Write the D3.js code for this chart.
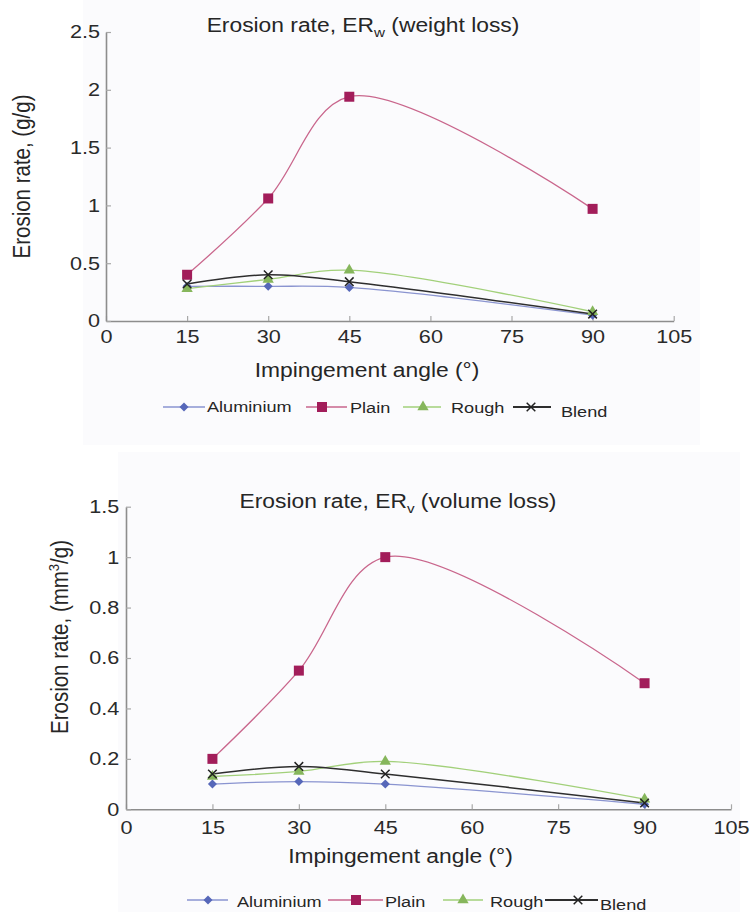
<!DOCTYPE html>
<html>
<head>
<meta charset="utf-8">
<script src="https://cdn.jsdelivr.net/npm/d3@7"></script>
<style>
  html, body { margin: 0; padding: 0; background: #ffffff; }
  svg { display: block; font-family: "Liberation Sans", Arial, Helvetica, sans-serif; }
</style>
</head>
<body>
<svg id="chart" width="752" height="912"></svg>
<script>
// ---------------- DATA ----------------
const angles = [15, 30, 45, 90];
const seriesNames = ["Aluminium", "Plain", "Rough", "Blend"];

// Erosion rate by weight loss (g/g)
const weightAluminium = [0.30, 0.30, 0.29, 0.05];
const weightPlain     = [0.40, 1.06, 1.94, 0.97];
const weightRough     = [0.28, 0.36, 0.44, 0.08];
const weightBlend     = [0.32, 0.40, 0.34, 0.06];

// Erosion rate by volume loss (mm3/g)
const volumeAluminium = [0.10, 0.11, 0.10, 0.02];
const volumePlain     = [0.20, 0.55, 1.00, 0.50];
const volumeRough     = [0.13, 0.15, 0.19, 0.04];
const volumeBlend     = [0.14, 0.17, 0.14, 0.025];

const xTicks = [0, 15, 30, 45, 60, 75, 90, 105];
const yTicksWeight = [0, 0.5, 1, 1.5, 2, 2.5];
const yTickLabelsWeight = ["0", "0.5", "1", "1.5", "2", "2.5"];
const yTicksVolume = [0, 0.2, 0.4, 0.6, 0.8, 1, 1.2];
const yTickLabelsVolume = ["0", "0.2", "0.4", "0.6", "0.8", "1", "1.5"];

// ---------------- STYLE ----------------
const SX = 1.17; // horizontal stretch of the reference's text
const styles = {
  Aluminium: { line: "#8a94d0", marker: "#5667b9", symbol: d3.symbolDiamond2, size: 52, stroke: false, lw: 1.3 },
  Plain:     { line: "#c9668c", marker: "#a21d5a", symbol: d3.symbolSquare,  size: 100, stroke: false, lw: 1.3 },
  Rough:     { line: "#a2d07a", marker: "#86b65c", symbol: d3.symbolTriangle, size: 55, stroke: false, lw: 1.3 },
  Blend:     { line: "#2e2e2e", marker: "#222222", symbol: d3.symbolX, size: 50, stroke: true, lw: 1.5 }
};

const charts = [
  {
    bg: [83, 0, 617, 445],
    x: [106, 673.7], y: [321, 32], yMax: 2.5,
    yTicks: yTicksWeight, yLabels: yTickLabelsWeight,
    series: [weightAluminium, weightPlain, weightRough, weightBlend],
    title: { x: 363, y: 32, main: "Erosion rate, ER", sub: "w", rest: " (weight loss)" },
    yTitle: { x: 30, y: 176.5, parts: [["Erosion rate, (g/g)", null]] },
    xTitle: { x: 367, y: 376.7 },
    xPad: 9, yGap: 6,
    legend: { y: 407, items: [
      { l0: 163, l1: 205, m: 184, t: 207, ty: 411.7 },
      { l0: 306, l1: 347, m: 322, t: 350, ty: 413 },
      { l0: 403, l1: 441, m: 423, t: 451, ty: 413 },
      { l0: 513, l1: 551, m: 531, t: 561, ty: 416.7 }
    ]}
  },
  {
    bg: [118, 452, 622, 460],
    x: [126, 731], y: [809.3, 506.7], yMax: 1.2,
    yTicks: yTicksVolume, yLabels: yTickLabelsVolume,
    series: [volumeAluminium, volumePlain, volumeRough, volumeBlend],
    title: { x: 398, y: 508, main: "Erosion rate, ER", sub: "v", rest: " (volume loss)" },
    yTitle: { x: 68, y: 637, parts: [["Erosion rate, (mm", null], ["3", "sup"], ["/g)", "base"]] },
    xTitle: { x: 400.5, y: 862.7 },
    xPad: 12, yGap: 6.7,
    legend: { y: 900, items: [
      { l0: 187, l1: 228, m: 208, t: 237, ty: 906.5 },
      { l0: 328, l1: 383, m: 356, t: 385, ty: 906.5 },
      { l0: 443, l1: 483, m: 463, t: 490, ty: 906.5 },
      { l0: 545, l1: 598, m: 578, t: 600, ty: 909.5 }
    ]}
  }
];

const svg = d3.select("#chart");

charts.forEach(c => {
  svg.append("rect")
    .attr("x", c.bg[0]).attr("y", c.bg[1]).attr("width", c.bg[2]).attr("height", c.bg[3])
    .attr("fill", "#fbfbfd");

  const xs = d3.scaleLinear().domain([0, 105]).range(c.x);
  const ys = d3.scaleLinear().domain([0, c.yMax]).range(c.y);
  const g = svg.append("g");

  // X axis
  const xAxis = d3.axisBottom(xs).tickValues(xTicks).tickFormat(d3.format("d"))
    .tickSizeInner(-5).tickSizeOuter(0).tickPadding(c.xPad);
  const gx = g.append("g").attr("transform", `translate(0,${c.y[0]})`).call(xAxis);
  gx.select(".domain").attr("stroke", "#8d8d8d").attr("stroke-width", 1.6);
  gx.selectAll(".tick line").attr("stroke", "#a8a8a8").attr("stroke-width", 1.2);
  gx.selectAll(".tick text")
    .attr("font-size", 18.5).attr("fill", "#2a2a2a")
    .attr("font-family", "Liberation Sans, Arial, sans-serif")
    .attr("transform", `scale(${SX},1)`);

  // Y axis
  const yAxis = d3.axisLeft(ys).tickValues(c.yTicks)
    .tickFormat((d, i) => c.yLabels[i])
    .tickSizeInner(-5).tickSizeOuter(0).tickPadding(c.yGap);
  const gy = g.append("g").attr("transform", `translate(${c.x[0]},0)`).call(yAxis);
  gy.select(".domain").attr("stroke", "#8d8d8d").attr("stroke-width", 1.6);
  gy.selectAll(".tick line").attr("stroke", "#a8a8a8").attr("stroke-width", 1.2);
  gy.selectAll(".tick text")
    .attr("font-size", 18.5).attr("fill", "#2a2a2a")
    .attr("font-family", "Liberation Sans, Arial, sans-serif")
    .attr("x", -c.yGap / SX)
    .attr("transform", `scale(${SX},1)`);

  // Lines
  const line = d3.line()
    .x(d => xs(d[0])).y(d => ys(d[1]))
    .curve(d3.curveCatmullRom.alpha(0.5));

  seriesNames.forEach((name, si) => {
    const st = styles[name];
    const pts = angles.map((a, i) => [a, c.series[si][i]]);
    g.append("path").datum(pts)
      .attr("d", line).attr("fill", "none")
      .attr("stroke", st.line).attr("stroke-width", st.lw);
  });
  seriesNames.forEach((name, si) => {
    const st = styles[name];
    const pts = angles.map((a, i) => [a, c.series[si][i]]);
    const sym = d3.symbol().type(st.symbol).size(st.size);
    g.selectAll(null).data(pts).enter().append("path")
      .attr("d", sym)
      .attr("transform", d => `translate(${xs(d[0])},${ys(d[1])})`)
      .attr("fill", st.stroke ? "none" : st.marker)
      .attr("stroke", st.stroke ? st.marker : "none")
      .attr("stroke-width", st.stroke ? 1.5 : 0);
  });

  // Title
  const tg = g.append("g").attr("transform", `translate(${c.title.x},${c.title.y}) scale(${SX},1)`);
  const tt = tg.append("text").attr("text-anchor", "middle")
    .attr("font-size", 19.5).attr("fill", "#262626");
  tt.append("tspan").text(c.title.main);
  tt.append("tspan").text(c.title.sub).attr("font-size", 13).attr("dy", 5);
  tt.append("tspan").text(c.title.rest).attr("dy", -5);

  // Y title
  const yg = g.append("g").attr("transform", `translate(${c.yTitle.x},${c.yTitle.y}) scale(${SX},1) rotate(-90)`);
  const yt = yg.append("text").attr("text-anchor", "middle")
    .attr("font-size", 20.5).attr("fill", "#262626");
  c.yTitle.parts.forEach(p => {
    const ts = yt.append("tspan").text(p[0]);
    if (p[1] === "sup") ts.attr("font-size", 13).attr("dy", -8);
    else if (p[1] === "base") ts.attr("dy", 8);
  });

  // X title
  g.append("g").attr("transform", `translate(${c.xTitle.x},${c.xTitle.y}) scale(${SX},1)`)
    .append("text").attr("text-anchor", "middle")
    .attr("font-size", 19.5).attr("fill", "#262626")
    .text("Impingement angle (°)");

  // Legend
  seriesNames.forEach((name, si) => {
    const st = styles[name];
    const it = c.legend.items[si];
    g.append("line")
      .attr("x1", it.l0).attr("x2", it.l1)
      .attr("y1", c.legend.y).attr("y2", c.legend.y)
      .attr("stroke", st.line).attr("stroke-width", st.lw + 0.4);
    g.append("path")
      .attr("d", d3.symbol().type(st.symbol).size(st.size)())
      .attr("transform", `translate(${it.m},${c.legend.y})`)
      .attr("fill", st.stroke ? "none" : st.marker)
      .attr("stroke", st.stroke ? st.marker : "none")
      .attr("stroke-width", st.stroke ? 1.5 : 0);
    g.append("g").attr("transform", `translate(${it.t},${it.ty}) scale(${SX},1)`)
      .append("text").attr("font-size", 15.5).attr("fill", "#262626").text(name);
  });
});
</script>
</body>
</html>
